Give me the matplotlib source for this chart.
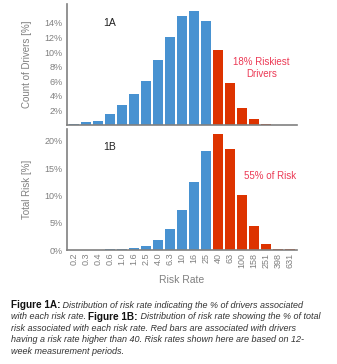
import matplotlib
matplotlib.use("Agg")
import matplotlib.pyplot as plt

NARROW = ['Liberation Sans Narrow', 'DejaVu Sans Condensed', 'Liberation Sans', 'DejaVu Sans']
plt.rcParams['font.family'] = NARROW

# risk rate categories (log spaced)
rates = ["0.2", "0.3", "0.4", "0.6", "1.0", "1.6", "2.5", "4.0", "6.3", "10",
         "16", "25", "40", "63", "100", "158", "251", "398", "631"]
# % of drivers per risk rate (1A)
drivers_pct = [0.2, 0.35, 0.6, 1.45, 2.8, 4.2, 6.1, 8.85, 12.1, 14.9,
               15.7, 14.3, 10.35, 5.8, 2.3, 0.77, 0.2, 0.03, 0.02]
# % of total risk per risk rate (1B)
risk_pct = [0.0, 0.0, 0.0, 0.2, 0.25, 0.4, 0.8, 1.9, 3.85, 7.3,
            12.5, 18.2, 21.3, 18.5, 10.1, 4.4, 1.1, 0.2, 0.25]
cutoff = 40.0

BLUE = "#4892d1"
RED = "#dd3300"
GRAY = "#808080"
ANNOT = "#ec3a55"

colors = [RED if float(r) >= cutoff else BLUE for r in rates]
xs = list(range(len(rates)))

W, H = 337, 364
fig = plt.figure(figsize=(W / 100, H / 100), dpi=100)

def make_axes(top_px, bottom_px):
    return fig.add_axes([67 / W, (H - bottom_px) / H, 230 / W, (bottom_px - top_px) / H])

def style(ax):
    for s in ("top", "right"):
        ax.spines[s].set_visible(False)
    for s in ("left", "bottom"):
        ax.spines[s].set_color(GRAY)
        ax.spines[s].set_linewidth(1.2)
    ax.tick_params(axis="both", length=0, colors=GRAY, labelsize=6.5)
    ax.set_xlim(-0.58, 18.58)

# --- 1A
ax1 = make_axes(4, 125)
ax1.bar(xs, drivers_pct, width=0.83, color=colors)
style(ax1)
ax1.set_ylim(0, 16.6)
ax1.set_yticks([2, 4, 6, 8, 10, 12, 14])
ax1.set_yticklabels([f"{v}%" for v in [2, 4, 6, 8, 10, 12, 14]])
ax1.tick_params(axis="y", pad=3)
ax1.set_xticks([])
ax1.set_ylabel("Count of Drivers [%]", color=GRAY, fontsize=7, labelpad=9)
ax1.text(3.0, 14.0, "1A", fontsize=7.5, color="#222222", ha="center", va="center")
ax1.text(15.6, 7.8, "18% Riskiest\nDrivers", fontsize=7, color=ANNOT,
         ha="center", va="center", linespacing=1.3)

# --- 1B
ax2 = make_axes(129, 250)
ax2.bar(xs, risk_pct, width=0.83, color=colors)
style(ax2)
ax2.set_ylim(0, 22.2)
ax2.set_yticks([0, 5, 10, 15, 20])
ax2.set_yticklabels([f"{v}%" for v in [0, 5, 10, 15, 20]])
ax2.tick_params(axis="y", pad=3)
ax2.set_xticks(xs)
ax2.set_xticklabels(rates, rotation=90)
ax2.tick_params(axis="x", pad=2)
ax2.set_ylabel("Total Risk [%]", color=GRAY, fontsize=7, labelpad=9)
ax2.set_xlabel("Risk Rate", color=GRAY, fontsize=7.5, labelpad=5)
ax2.text(3.0, 18.9, "1B", fontsize=7.5, color="#222222", ha="center", va="center")
ax2.text(16.3, 13.5, "55% of Risk", fontsize=7, color=ANNOT, ha="center", va="center")

# --- caption, mixed bold / italic
lines = [
    [("Figure 1A:", "bold"), (" Distribution of risk rate indicating the % of drivers associated", "italic")],
    [("with each risk rate. ", "italic"), ("Figure 1B:", "bold"), (" Distribution of risk rate showing the % of total", "italic")],
    [("risk associated with each risk rate. Red bars are associated with drivers", "italic")],
    [("having a risk rate higher than 40. Risk rates shown here are based on 12-", "italic")],
    [("week measurement periods.", "italic")],
]
renderer = fig.canvas.get_renderer()
y0 = 305
for i, parts in enumerate(lines):
    x = 11
    y = y0 + i * 11.6
    for txt, kind in parts:
        if kind == "bold":
            t = fig.text(x / W, 1 - y / H, txt, fontsize=7.2, fontweight="bold",
                         family=NARROW, color="#111111", va="center")
        else:
            t = fig.text(x / W, 1 - y / H, txt, fontsize=6.5, style="italic",
                         family=['Liberation Sans', 'DejaVu Sans'], color="#333333", va="center")
        x += t.get_window_extent(renderer).width

fig.savefig("out.png", dpi=100)
